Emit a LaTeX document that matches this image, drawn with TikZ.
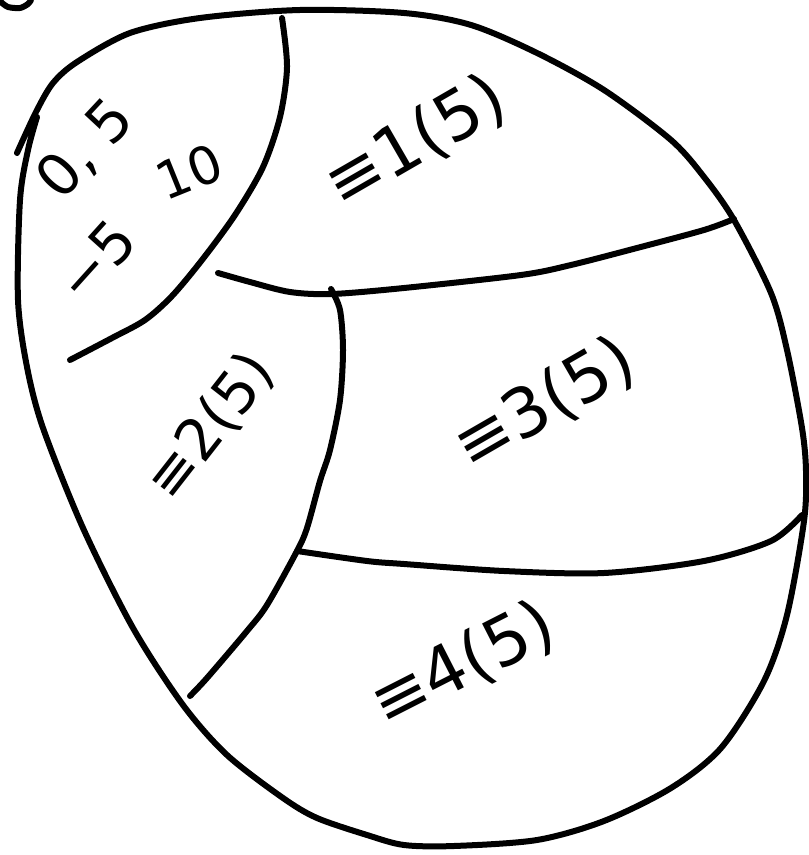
\documentclass[tikz,border=0pt]{standalone}
\usepackage{fontspec}
\setmainfont{DejaVu Sans}
\begin{document}
\begin{tikzpicture}[x=0.5pt,y=-0.5pt,
  pen/.style={draw=black, line width=3pt, line cap=round, line join=round},
  lbl/.style={inner sep=0pt, font=\fontsize{34}{40}\selectfont},
  lbls/.style={inner sep=0pt, font=\fontsize{29}{34}\selectfont}]
\useasboundingbox (0,0) rectangle (808,855);
% outer blob
\draw[pen] plot[smooth] coordinates {(17,153) (36,112) (53,83) (77,62) (130,33) (200,18) (300,10) (404,13) (471,25) (537,53) (604,90) (671,140) (704,177) (734,220) (771,293) (787,350) (802,428) (806,471) (804,521) (787,615) (764,681) (721,748) (671,788) (604,821) (537,840) (454,846) (404,845) (367,835) (317,818) (283,798) (227,755) (183,705) (133,628) (83,528) (43,428) (27,367) (18,300) (20,200) (28,150) (37,117)};
% fragment at the corner
\draw[pen] plot[smooth] coordinates {(1,2) (8,7) (20,8) (28,4) (31,0)};
% curve around the 0 class
\draw[pen] plot[smooth] coordinates {(282,18) (287,67) (280,117) (263,167) (235,215) (202,260) (172,296) (145,320) (112,338) (70,360)};
% line between 1 and 3
\draw[pen] plot[smooth] coordinates {(218,273) (250,282) (290,292) (332,294) (404,288) (521,275) (571,265) (637,248) (704,230) (734,219)};
% vertical curve
\draw[pen] plot[smooth] coordinates {(331,289) (340,310) (343,350) (340,400) (330,450) (320,481) (307,528) (297,551) (267,605) (247,631) (207,678) (190,696)};
% line between 3 and 4
\draw[pen] plot[smooth] coordinates {(297,551) (367,561) (404,564) (504,571) (604,573) (704,561) (771,541) (802,515)};
% labels
\node[lbls, rotate=47] (n05) at (86,150) {0, 5};
\node[lbls, rotate=22, font=\fontsize{26}{30}\selectfont] (n10) at (189,172) {10};
\node[lbls, rotate=48] (nm5) at (96,261) {−5};
\node[lbl, rotate=30] (c1) at (416,142) {≡1(5)};
\node[lbl, rotate=52, font=\fontsize{29}{34}\selectfont] (c2) at (211,427) {≡2(5)};
\node[lbl, rotate=30] (c3) at (545,404) {≡3(5)};
\node[lbl, rotate=27] (c4) at (463,665) {≡4(5)};
\end{tikzpicture}
\end{document}
